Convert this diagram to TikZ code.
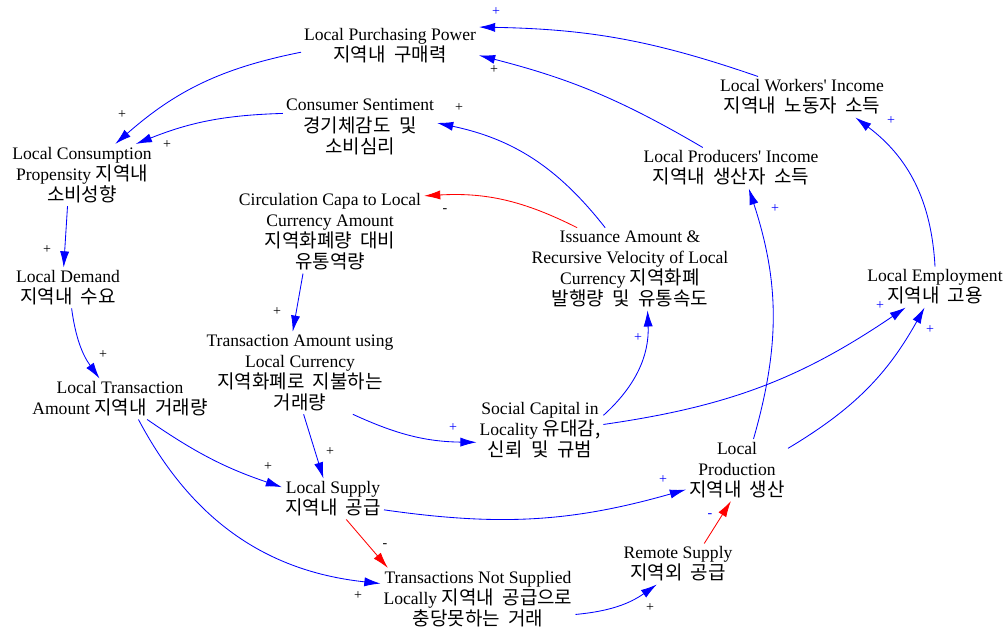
\documentclass[tikz,border=0pt]{standalone}
\usepackage{fontspec}
\setmainfont{Liberation Serif}
\newfontfamily\krfont[Scale=1.08,WordSpace=2]{Noto Sans CJK KR}
\newcommand{\kr}[1]{{\krfont #1}}
\usetikzlibrary{arrows.meta}

\tikzset{
  var/.style={align=center, inner sep=2pt, font=\fontsize{12.5}{15}\selectfont},
  poslink/.style={blue, semithick, -{Latex[length=11.5pt,width=6.5pt]}},
  neglink/.style={red, semithick, -{Latex[length=11.5pt,width=6.5pt]}},
  sgn/.style={inner sep=0pt, font=\fontsize{10}{10}\selectfont}
}

\begin{document}
\begin{tikzpicture}[x=0.025cm, y=-0.025cm]
    \useasboundingbox (0,0) rectangle (1008,630); % page size in px

    % Variables
    \node[var] (pp) at (390,46) {Local Purchasing Power\\\kr{지역내 구매력}};
    \node[var] (cs) at (360,127) {Consumer Sentiment\\\kr{경기체감도 및}\\\kr{소비심리}};
    \node[var] (lcp) at (82,175) {Local Consumption\\Propensity \kr{지역내}\\\kr{소비성향}};
    \node[var] (cc) at (330,232) {Circulation Capa to Local\\Currency Amount\\\kr{지역화폐량 대비}\\\kr{유통역량}};
    \node[var] (ld) at (68,288) {Local Demand\\\kr{지역내 수요}};
    \node[var] (iss) at (630,269) {Issuance Amount \&\\Recursive Velocity of Local\\Currency \kr{지역화폐}\\\kr{발행량 및 유통속도}};
    \node[var] (wi) at (802,97) {Local Workers\textquotesingle{} Income\\\kr{지역내 노동자 소득}};
    \node[var] (pi) at (731,168) {Local Producers\textquotesingle{} Income\\\kr{지역내 생산자 소득}};
    \node[var] (le) at (935,287) {Local Employment\\\kr{지역내 고용}};
    \node[var] (talc) at (300,373) {Transaction Amount using\\Local Currency\\\kr{지역화폐로 지불하는}\\\kr{거래량}};
    \node[var] (lta) at (120,399) {Local Transaction\\Amount \kr{지역내 거래량}};
    \node[var] (sc) at (540,430) {Social Capital in\\Locality \kr{유대감,}\\\kr{신뢰 및 규범}};
    \node[var] (lp) at (737,470) {Local\\Production\\\kr{지역내 생산}};
    \node[var] (ls) at (333,499) {Local Supply\\\kr{지역내 공급}};
    \node[var] (tns) at (478,599) {Transactions Not Supplied\\Locally \kr{지역내 공급으로}\\\kr{충당못하는 거래}};
    \node[var] (rs) at (678,564) {Remote Supply\\\kr{지역외 공급}};

    % Causal links
    \draw[poslink] (wi.155) to[bend right=9] (pp.12);
    \draw[poslink] (pi.144) to[bend right=8] (pp.-6);
    \draw[poslink] (pp.184) to[bend right=15] (lcp.43);
    \draw[poslink] (cs.170) to[bend right=10] (lcp.30);
    \draw[poslink] (iss.121) to[bend right=20] (cs.3);
    \draw[neglink] (iss.142) to[bend right=15] (cc.21);
    \draw[poslink] (lcp.245) -- (ld.102);
    \draw[poslink] (ld.-80) to[bend right=14] (lta.135);
    \draw[poslink] (cc.237) -- (talc.100);
    \draw[poslink] (talc.-85) -- (ls.115);
    \draw[poslink] (talc.-38) to[bend right=12] (sc.191);
    \draw[poslink] (lta.-37) to[bend right=8] (ls.167);
    \draw[poslink] (lta.-48) to[bend right=28] (tns.171);
    \draw[neglink] (ls.-57) -- (tns.161);
    \draw[poslink] (ls.-12) to[bend right=12] (lp.201);
    \draw[poslink] (tns.-9) to[bend right=15] (rs.224);
    \draw[neglink] (rs.38) -- (lp.259);
    \draw[poslink] (lp.62) to[bend right=17] (pi.-49);
    \draw[poslink] (lp.23) to[bend right=15] (le.243);
    \draw[poslink] (sc.5) to[bend right=13] (le.215);
    \draw[poslink] (sc.13) to[bend right=25] (iss.-67);
    \draw[poslink] (le.90) to[bend right=25] (wi.-21);

    % Polarity signs
    \foreach \x/\y/\c/\s [count=\i] in {496/12/blue/+, 494/70/black/+, 122/115/black/+,
        167/145/black/+, 459/108/black/+, 445/211/black/-, 47/250/black/+, 103/355/black/+,
        277/312/black/+, 330/452/black/+, 453/428/blue/+, 268/467/black/+, 358/596/black/+,
        385/546/black/-, 663/480/blue/+, 650/608/black/+, 710/516/blue/-, 775/209/blue/+,
        930/330/blue/+, 880/306/blue/+, 638/338/blue/+, 891/121/blue/+}
        \node[sgn, text=\c] (sign\i) at (\x,\y) {\s};
\end{tikzpicture}
\end{document}
